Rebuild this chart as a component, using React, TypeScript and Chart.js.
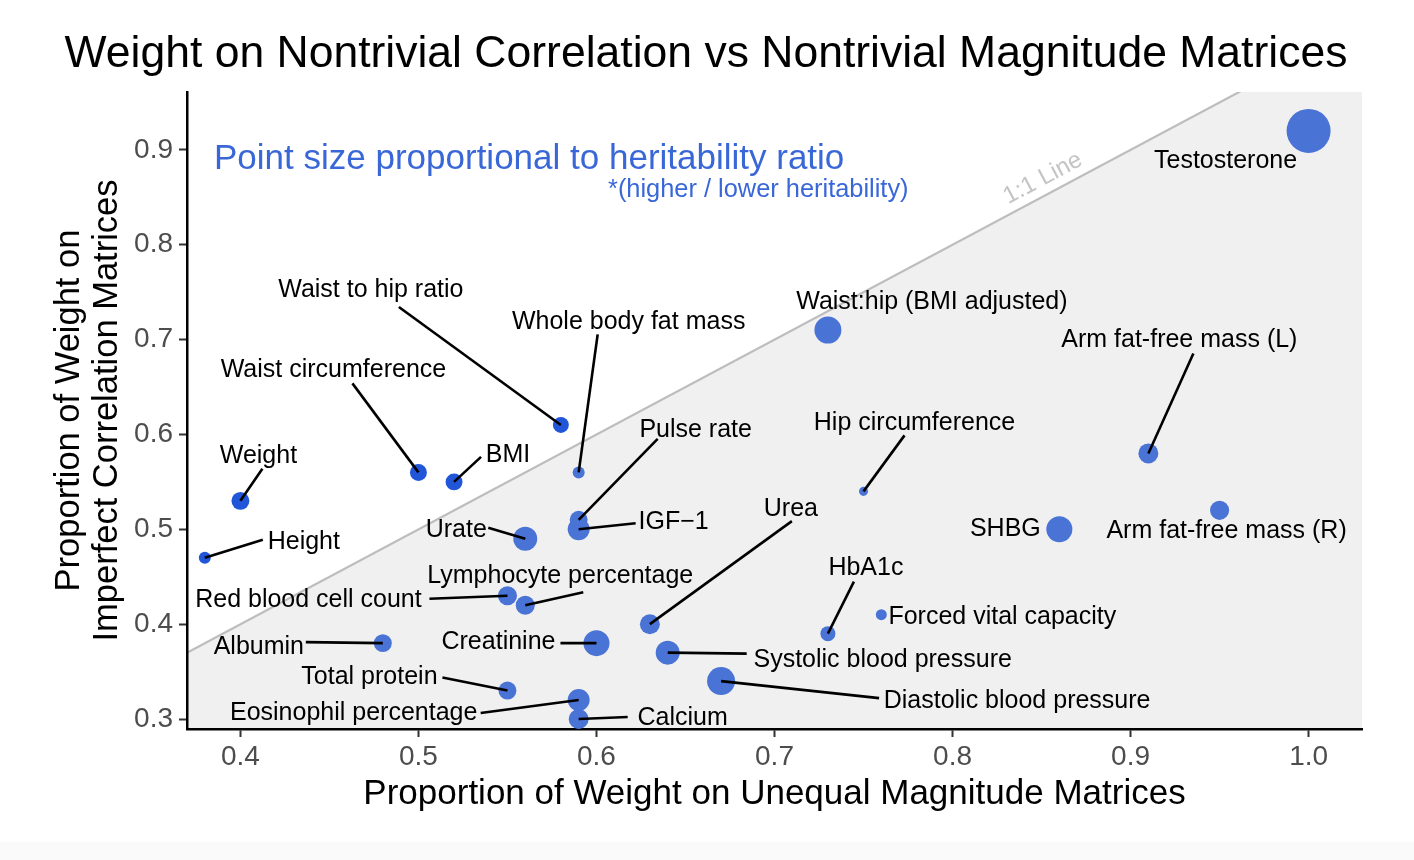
import React, { useEffect, useRef } from 'react';
import { Chart, registerables } from 'chart.js';

Chart.register(...registerables);

// ---------- DATA ----------
const traitNames = [
  'Testosterone', 'Waist:hip (BMI adjusted)', 'Arm fat-free mass (L)', 'Hip circumference',
  'SHBG', 'Arm fat-free mass (R)', 'Forced vital capacity', 'HbA1c', 'Urea',
  'Systolic blood pressure', 'Diastolic blood pressure', 'Creatinine', 'Calcium',
  'Eosinophil percentage', 'Total protein', 'Albumin', 'Red blood cell count',
  'Lymphocyte percentage', 'Urate', 'IGF\u22121', 'Pulse rate', 'Whole body fat mass',
  'Waist to hip ratio', 'Waist circumference', 'BMI', 'Weight', 'Height',
];

// Proportion of weight on unequal magnitude matrices (x)
const unequalMagnitude = [
  1.0, 0.73, 0.91, 0.75,
  0.86, 0.95, 0.76, 0.73, 0.63,
  0.64, 0.67, 0.60, 0.59,
  0.59, 0.55, 0.48, 0.55,
  0.56, 0.56, 0.59, 0.59, 0.59,
  0.58, 0.50, 0.52, 0.40, 0.38,
];

// Proportion of weight on imperfect correlation matrices (y)
const imperfectCorrelation = [
  0.92, 0.71, 0.58, 0.54,
  0.50, 0.52, 0.41, 0.39, 0.40,
  0.37, 0.34, 0.38, 0.30,
  0.32, 0.33, 0.38, 0.43,
  0.42, 0.49, 0.50, 0.51, 0.56,
  0.61, 0.56, 0.55, 0.53, 0.47,
];

// Heritability ratio (higher / lower heritability) -> point size
const heritabilityRatio = [
  22.9, 8.6, 4.7, 0.96,
  8.0, 4.3, 1.43, 2.66, 4.7,
  6.8, 9.3, 8.0, 4.7,
  5.7, 3.8, 3.8, 4.3,
  4.3, 6.8, 5.7, 3.8, 1.7,
  3.0, 3.4, 3.4, 3.8, 1.7,
];

const xTickValues = [0.4, 0.5, 0.6, 0.7, 0.8, 0.9, 1.0];
const yTickValues = [0.3, 0.4, 0.5, 0.6, 0.7, 0.8, 0.9];

const X_MIN = 0.37;
const X_MAX = 1.03;
const Y_MIN = 0.2895;
const Y_MAX = 0.961;

const titleText = 'Weight on Nontrivial Correlation vs Nontrivial Magnitude Matrices';
const xTitle = 'Proportion of Weight on Unequal Magnitude Matrices';
const yTitleLines = ['Proportion of Weight on', 'Imperfect Correlation Matrices'];
const noteMain = 'Point size proportional to heritability ratio';
const noteSub = '*(higher / lower heritability)';
const identityLabel = '1:1 Line';

// ---------- LABEL LAYOUT (pixel offsets from each point) ----------
// tx,ty: text centre offset; lx,ly: leader-line end offset (optional)
type LabelPos = { tx: number; ty: number; lx?: number; ly?: number };
const labelLayout: LabelPos[] = [
  { tx: -83, ty: 29 },                        // Testosterone
  { tx: 104, ty: -29 },                       // Waist:hip adj
  { tx: 31, ty: -114, lx: 45, ly: -100 },     // Arm L
  { tx: 51, ty: -69, lx: 41, ly: -56 },       // Hip circ
  { tx: -54, ty: -1 },                        // SHBG
  { tx: 7, ty: 20 },                          // Arm R
  { tx: 121, ty: 1 },                         // FVC
  { tx: 38, ty: -67, lx: 26, ly: -52 },       // HbA1c
  { tx: 141, ty: -116, lx: 142, ly: -103 },   // Urea
  { tx: 215, ty: 6, lx: 79, ly: 1 },          // Systolic
  { tx: 296, ty: 19, lx: 158, ly: 17 },       // Diastolic
  { tx: -98, ty: -2, lx: -36, ly: 0 },        // Creatinine
  { tx: 104, ty: -2, lx: 49, ly: -2 },        // Calcium
  { tx: -225, ty: 12, lx: -98, ly: 13 },      // Eosinophil
  { tx: -138, ty: -14, lx: -65, ly: -13 },    // Total protein
  { tx: -124, ty: 3, lx: -77, ly: -1 },       // Albumin
  { tx: -199, ty: 3, lx: -78, ly: 3 },        // RBC
  { tx: 35, ty: -30, lx: 58, ly: -13 },       // Lymphocyte
  { tx: -69, ty: -10, lx: -37, ly: -11 },     // Urate
  { tx: 95, ty: -8, lx: 57, ly: -6 },         // IGF-1
  { tx: 117, ty: -91, lx: 79, ly: -81 },      // Pulse
  { tx: 50, ty: -151, lx: 19, ly: -138 },     // Whole body fat
  { tx: -190, ty: -136, lx: -162, ly: -118 }, // Waist to hip ratio
  { tx: -85, ty: -103, lx: -66, ly: -89 },    // Waist circ
  { tx: 54, ty: -28, lx: 27, ly: -25 },       // BMI
  { tx: 18, ty: -46, lx: 22, ly: -32 },       // Weight
  { tx: 99, ty: -17, lx: 58, ly: -18 },       // Height
];

const FONT = '"Liberation Sans", Arial, Helvetica, sans-serif';
const DARK_BLUE = '#2156d8';
const LIGHT_BLUE = '#4a73d6';
const NOTE_BLUE = '#3a67d8';
const SHADE = '#f0f0f0';
const LINE_GREY = '#bdbdbd';

const radiusOf = (i: number) => 4.6 * Math.sqrt(heritabilityRatio[i]);

const decorPlugin = {
  id: 'decor',
  beforeDraw(chart: any) {
    const { ctx, chartArea: a, scales } = chart;
    const xs = scales.x;
    const ys = scales.y;
    ctx.save();
    ctx.fillStyle = '#ffffff';
    ctx.fillRect(0, 0, chart.width, chart.height);
    ctx.fillStyle = '#fafafa';
    ctx.fillRect(0, 842, chart.width, chart.height - 842);

    // shaded region below 1:1 line
    ctx.beginPath();
    ctx.rect(a.left, a.top, a.right - a.left, a.bottom - a.top);
    ctx.clip();
    const lo = Math.min(X_MIN, Y_MIN);
    const hi = Math.max(X_MAX, Y_MAX);
    ctx.beginPath();
    ctx.moveTo(xs.getPixelForValue(lo), ys.getPixelForValue(lo));
    ctx.lineTo(xs.getPixelForValue(hi), ys.getPixelForValue(hi));
    ctx.lineTo(xs.getPixelForValue(hi), ys.getPixelForValue(lo));
    ctx.closePath();
    ctx.fillStyle = SHADE;
    ctx.fill();

    // 1:1 line
    ctx.beginPath();
    ctx.moveTo(xs.getPixelForValue(lo), ys.getPixelForValue(lo));
    ctx.lineTo(xs.getPixelForValue(hi), ys.getPixelForValue(hi));
    ctx.strokeStyle = LINE_GREY;
    ctx.lineWidth = 2.2;
    ctx.stroke();

    // "1:1 Line" label
    const v = 0.855;
    const px = xs.getPixelForValue(v);
    const py = ys.getPixelForValue(v);
    const p2x = xs.getPixelForValue(v + 0.1);
    const p2y = ys.getPixelForValue(v + 0.1);
    const ang = Math.atan2(p2y - py, p2x - px);
    const nx = Math.sin(ang);
    const ny = -Math.cos(ang);
    ctx.translate(px + nx * 16, py + ny * 16);
    ctx.rotate(ang);
    ctx.font = `24px ${FONT}`;
    ctx.fillStyle = '#c4c4c4';
    ctx.textAlign = 'center';
    ctx.textBaseline = 'middle';
    ctx.fillText(identityLabel, 0, 0);
    ctx.restore();
  },
  afterDatasetsDraw(chart: any) {
    const { ctx, scales } = chart;
    const xs = scales.x;
    const ys = scales.y;
    ctx.save();
    ctx.font = `25px ${FONT}`;
    ctx.textAlign = 'center';
    ctx.textBaseline = 'middle';
    traitNames.forEach((name, i) => {
      const px = xs.getPixelForValue(unequalMagnitude[i]);
      const py = ys.getPixelForValue(imperfectCorrelation[i]);
      const L = labelLayout[i];
      if (L.lx !== undefined && L.ly !== undefined) {
        ctx.beginPath();
        ctx.moveTo(px, py);
        ctx.lineTo(px + L.lx, py + L.ly);
        ctx.strokeStyle = '#000';
        ctx.lineWidth = 2.6;
        ctx.stroke();
      }
      ctx.fillStyle = '#000';
      ctx.fillText(name, px + L.tx, py + L.ty + 1);
    });

    // title
    ctx.textBaseline = 'alphabetic';
    ctx.font = `44.5px ${FONT}`;
    ctx.fillText(titleText, 706, 67);

    // x axis title
    ctx.font = `35px ${FONT}`;
    ctx.fillText(xTitle, (chart.chartArea.left + chart.chartArea.right) / 2, 804);

    // y axis title (two lines)
    const yc = (chart.chartArea.top + chart.chartArea.bottom) / 2;
    ctx.font = `34.5px ${FONT}`;
    [79, 117].forEach((bx, k) => {
      ctx.save();
      ctx.translate(bx, yc);
      ctx.rotate(-Math.PI / 2);
      ctx.fillText(yTitleLines[k], 0, 0);
      ctx.restore();
    });

    // blue notes
    ctx.fillStyle = NOTE_BLUE;
    ctx.textAlign = 'left';
    ctx.font = `35px ${FONT}`;
    ctx.fillText(noteMain, 214, 169);
    ctx.font = `25.4px ${FONT}`;
    ctx.fillText(noteSub, 608, 197);
    ctx.restore();
  },
};

export default function App() {
  const ref = useRef<HTMLCanvasElement | null>(null);

  useEffect(() => {
    document.body.style.margin = '0';
    const canvas = ref.current;
    if (!canvas) return;
    const points = traitNames.map((_, i) => ({ x: unequalMagnitude[i], y: imperfectCorrelation[i] }));
    const radii = traitNames.map((_, i) => radiusOf(i));
    const colors = traitNames.map((_, i) =>
      imperfectCorrelation[i] > unequalMagnitude[i] ? DARK_BLUE : LIGHT_BLUE
    );

    const tickFont = { family: FONT, size: 28 };
    const chart = new Chart(canvas, {
      type: 'scatter',
      data: {
        datasets: [
          {
            data: points,
            pointRadius: radii,
            pointHoverRadius: radii,
            pointBackgroundColor: colors,
            pointBorderWidth: 0,
            pointBorderColor: 'rgba(0,0,0,0)',
          } as any,
        ],
      },
      options: {
        responsive: false,
        animation: false,
        devicePixelRatio: 1,
        layout: { padding: { top: 92, right: 52, left: 0, bottom: 0 } },
        plugins: {
          legend: { display: false },
          tooltip: { enabled: false },
        },
        events: [],
        scales: {
          x: {
            type: 'linear',
            min: X_MIN,
            max: X_MAX,
            afterBuildTicks: (axis: any) => {
              axis.ticks = xTickValues.map((v) => ({ value: v }));
            },
            afterFit: (axis: any) => {
              axis.height = 131;
            },
            ticks: {
              callback: (v: any) => Number(v).toFixed(1),
              font: tickFont,
              color: '#4d4d4d',
              padding: 3,
              maxRotation: 0,
              autoSkip: false,
            },
            grid: {
              drawOnChartArea: false,
              drawTicks: true,
              tickLength: 8,
              tickColor: '#333',
              tickWidth: 2,
            },
            border: { display: true, color: '#000', width: 2.5 },
          },
          y: {
            type: 'linear',
            min: Y_MIN,
            max: Y_MAX,
            afterBuildTicks: (axis: any) => {
              axis.ticks = yTickValues.map((v) => ({ value: v }));
            },
            afterFit: (axis: any) => {
              axis.width = 187;
            },
            ticks: {
              callback: (v: any) => Number(v).toFixed(1),
              font: tickFont,
              color: '#4d4d4d',
              padding: 6,
              autoSkip: false,
            },
            grid: {
              drawOnChartArea: false,
              drawTicks: true,
              tickLength: 8,
              tickColor: '#333',
              tickWidth: 2,
            },
            border: { display: true, color: '#000', width: 2.5 },
          },
        },
      } as any,
      plugins: [decorPlugin],
    });
    return () => chart.destroy();
  }, []);

  return (
    <div style={{ width: 1414, height: 860 }}>
      <canvas ref={ref} width={1414} height={860} style={{ display: 'block', width: 1414, height: 860 }} />
    </div>
  );
}
